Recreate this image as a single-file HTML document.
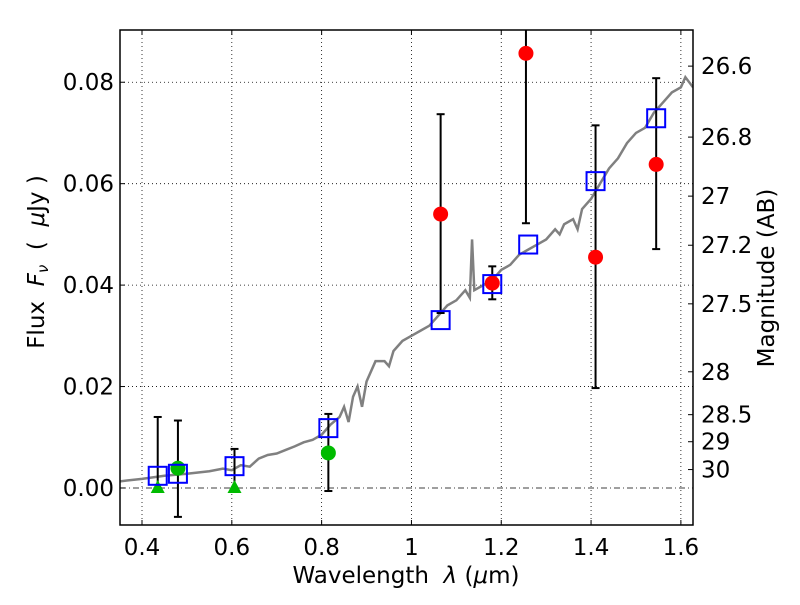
<!DOCTYPE html>
<html><head><meta charset="utf-8"><style>
body{margin:0;background:#fff}
svg text{font-family:"DejaVu Sans","Liberation Sans",sans-serif;fill:#000;white-space:pre}
</style></head><body>
<svg id="chart" width="800" height="600" xmlns="http://www.w3.org/2000/svg"></svg>
<script>
const specX=[0.35,0.4,0.45,0.5,0.55,0.58,0.6,0.62,0.64,0.66,0.68,0.7,0.72,0.74,0.76,0.78,0.8,0.82,0.84,0.85,0.86,0.87,0.88,0.89,0.9,0.92,0.94,0.95,0.96,0.98,1.0,1.02,1.04,1.06,1.08,1.1,1.12,1.13,1.135,1.14,1.16,1.18,1.2,1.22,1.24,1.26,1.28,1.3,1.32,1.33,1.34,1.36,1.37,1.38,1.4,1.42,1.44,1.46,1.48,1.5,1.52,1.54,1.56,1.58,1.6,1.61,1.627];
const specY=[0.0013,0.0018,0.0024,0.0028,0.0033,0.0038,0.0035,0.0045,0.0042,0.0058,0.0065,0.0068,0.0075,0.0082,0.009,0.0095,0.0105,0.0125,0.014,0.016,0.013,0.018,0.02,0.016,0.021,0.025,0.025,0.024,0.027,0.029,0.03,0.031,0.032,0.034,0.036,0.037,0.039,0.0375,0.049,0.039,0.04,0.041,0.043,0.044,0.046,0.047,0.048,0.049,0.051,0.05,0.052,0.053,0.051,0.055,0.057,0.06,0.063,0.065,0.068,0.07,0.071,0.074,0.076,0.078,0.079,0.081,0.079];
const modelX=[0.435,0.48,0.606,0.815,1.065,1.18,1.26,1.41,1.545];
const modelY=[0.0024,0.0028,0.0043,0.0118,0.0331,0.0402,0.048,0.0605,0.0729];
const greenX=[0.48,0.815];
const greenY=[0.0039,0.0069];
const triX=[0.435,0.606];
const triY=[0,0];
const redX=[1.065,1.18,1.255,1.41,1.545];
const redY=[0.054,0.0404,0.0857,0.0455,0.0638];
const errX=[0.435,0.48,0.606,0.815,1.065,1.18,1.255,1.41,1.545];
const errLo=[0,-0.0057,0,-0.0006,0.0345,0.0372,0.0522,0.0197,0.0471];
const errHi=[0.014,0.0133,0.0077,0.0146,0.0737,0.0437,0.1,0.0715,0.0808];
const xTicks=[0.4,0.6,0.8,1.0,1.2,1.4,1.6];
const xLabels=["0.4","0.6","0.8","1","1.2","1.4","1.6"];
const yTicks=[0,0.02,0.04,0.06,0.08];
const yLabels=["0.00","0.02","0.04","0.06","0.08"];
const magTicks=[26.6,26.8,27,27.2,27.5,28,28.5,29,30];
const magLabels=["26.6","26.8","27","27.2","27.5","28","28.5","29","30"];

const L=120,R=693,T=30,B=525,X0=0.351,X1=1.627,Y0=-0.0073,Y1=0.0903;
const FS=23;
const sx=v=>L+(v-X0)/(X1-X0)*(R-L);
const sy=v=>B-(v-Y0)/(Y1-Y0)*(B-T);
const svg=document.getElementById('chart');
const NS="http://www.w3.org/2000/svg";
function mk(tag,attrs,parent){const e=document.createElementNS(NS,tag);for(const k in attrs)e.setAttribute(k,attrs[k]);(parent||svg).appendChild(e);return e;}
const defs=mk('defs',{});const cp=mk('clipPath',{id:'clip'},defs);mk('rect',{x:L,y:T,width:R-L,height:B-T},cp);
const plot=mk('g',{'clip-path':'url(#clip)'});


xTicks.forEach((t,i)=>{
  const g=mk('line',{x1:sx(t),x2:sx(t),y1:T,y2:B,stroke:'#000','stroke-width':0.8,'stroke-dasharray':'1,3'},plot);
  
  
  mk('line',{x1:sx(t),x2:sx(t),y1:B,y2:B-5,stroke:'#000'});
  mk('line',{x1:sx(t),x2:sx(t),y1:T,y2:T+5,stroke:'#000'});
  const tx=mk('text',{x:sx(t),y:B+30,'text-anchor':'middle','font-size':FS});tx.textContent=xLabels[i];
  
  
});
yTicks.forEach((t,i)=>{
  const g=mk('line',{x1:L,x2:R,y1:sy(t),y2:sy(t),stroke:'#000','stroke-width':0.8,'stroke-dasharray':t===0?'6,3,1,3':'1,3'},plot);
  
  
  mk('line',{x1:L,x2:L+5,y1:sy(t),y2:sy(t),stroke:'#000'});
  const tx=mk('text',{x:L-6,y:sy(t)+8,'text-anchor':'end','font-size':FS});tx.textContent=yLabels[i];
  
  
});
magTicks.forEach((m,i)=>{
  const y=sy(Math.pow(10,(23.9-m)/2.5));
  mk('line',{x1:R,x2:R-5,y1:y,y2:y,stroke:'#000'});
  const tx=mk('text',{x:R+8,y:y+8,'font-size':FS});tx.textContent=magLabels[i];
  
  
});
const sp=mk('polyline',{points:specX.map((x,i)=>sx(x)+','+sy(specY[i])).join(' '),fill:'none',stroke:'#808080','stroke-width':2.5},plot);


errX.forEach((x,i)=>{
  const g=mk('g',{stroke:'#000','stroke-width':2},plot);
  
  
  mk('line',{x1:sx(x),x2:sx(x),y1:sy(errLo[i]),y2:sy(errHi[i])},g);
  mk('line',{x1:sx(x)-4,x2:sx(x)+4,y1:sy(errLo[i]),y2:sy(errLo[i])},g);
  mk('line',{x1:sx(x)-4,x2:sx(x)+4,y1:sy(errHi[i]),y2:sy(errHi[i])},g);
});
triX.forEach((x,i)=>{
  const cx=sx(x),cy=sy(triY[i]);
  const p=mk('polygon',{points:`${cx},${cy-8} ${cx-7},${cy+5} ${cx+7},${cy+5}`,fill:'#00bb00'},plot);
  
  
});
greenX.forEach((x,i)=>{
  const c=mk('circle',{cx:sx(x),cy:sy(greenY[i]),r:7.5,fill:'#00bb00'},plot);
  
  
});
redX.forEach((x,i)=>{
  const c=mk('circle',{cx:sx(x),cy:sy(redY[i]),r:7.5,fill:'#ff0000'},plot);
  
  
});
modelX.forEach((x,i)=>{
  const r=mk('rect',{x:sx(x)-9,y:sy(modelY[i])-9,width:18,height:18,fill:'none',stroke:'#0000ff','stroke-width':2},plot);
  
  
});
const fr=mk('rect',{x:L,y:T,width:R-L,height:B-T,fill:'none',stroke:'#000','stroke-width':1.5});


const xl=mk('text',{x:406,y:583,'text-anchor':'middle','font-size':FS});xl.innerHTML='Wavelength  <tspan font-style="italic">λ</tspan> (<tspan font-style="italic">μ</tspan>m)';


const yl=mk('text',{x:0,y:0,'text-anchor':'middle','font-size':FS,transform:'translate(44,262) rotate(-90)'});yl.innerHTML='Flux  <tspan font-style="italic">F</tspan><tspan font-style="italic" font-size="15" dy="4">ν</tspan><tspan dy="-4">  (  </tspan><tspan font-style="italic">μ</tspan>Jy )';


const rl=mk('text',{x:0,y:0,'text-anchor':'middle','font-size':FS,transform:'translate(774,278) rotate(-90)'});rl.textContent='Magnitude (AB)';


</script>
</body></html>
